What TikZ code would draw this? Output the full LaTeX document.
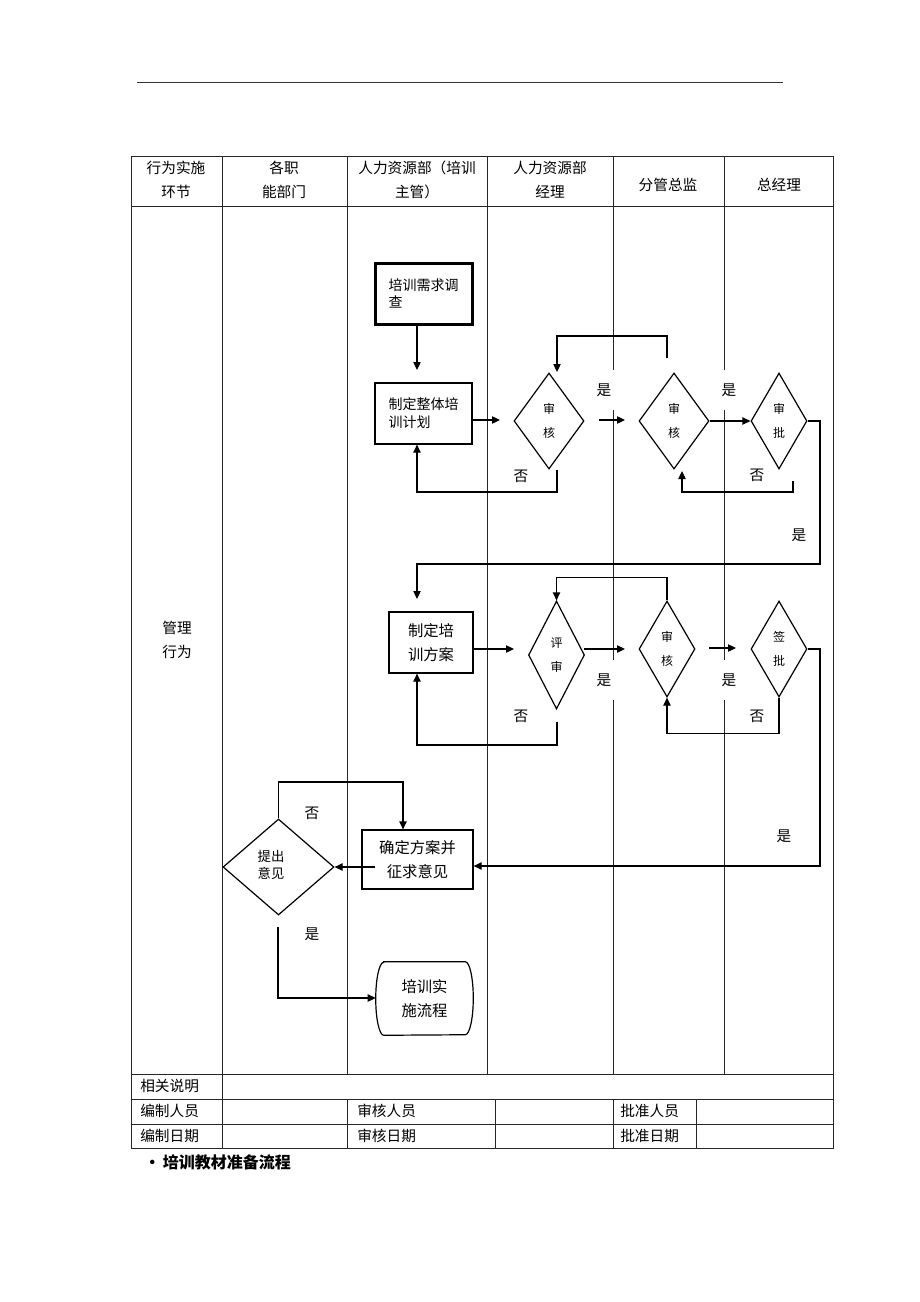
\documentclass[tikz,border=0pt]{standalone}
\usepackage{fontspec}
\setmainfont{Noto Sans CJK SC}
\usetikzlibrary{shapes.geometric,arrows.meta}
\begin{document}
\begin{tikzpicture}[x=0.75pt,y=-0.75pt,
  tbl/.style={line width=0.6pt, draw=black!85},
  conn/.style={line width=0.9pt},
  arr/.style={conn,-{Triangle[length=6pt,width=5.5pt]}},
  txt/.style={font=\fontsize{11}{18}\selectfont, inner sep=0pt, align=center},
  ltxt/.style={font=\fontsize{11}{13}\selectfont, inner sep=0pt, anchor=west},
  box/.style={draw, line width=0.9pt, rectangle, inner sep=0pt},
  dia/.style={draw, diamond, line width=0.9pt, inner sep=0pt, align=center, font=\fontsize{9}{18}\selectfont},
  yes/.style={fill=white, inner sep=0pt, font=\fontsize{11}{13}\selectfont, minimum width=22.5pt, minimum height=30pt},
  no/.style={inner sep=0pt, font=\fontsize{11}{13}\selectfont},
]
\useasboundingbox (0,0) rectangle (920,1302);
% top rule
\draw[line width=0.75pt, black!80] (137,83) -- (783,83);
% table
\draw[tbl] (131,156) rectangle (833,1148);
\draw[tbl] (131,206) -- (833,206);
\draw[tbl] (131,1074) -- (833,1074);
\draw[tbl] (131,1099) -- (833,1099);
\draw[tbl] (131,1124) -- (833,1124);
\foreach \xx in {222,347,487,613,724} {\draw[tbl] (\xx,156) -- (\xx,1074);}
\draw[tbl] (222,1074) -- (222,1148);
\foreach \xx in {347,495,613,696} {\draw[tbl] (\xx,1099) -- (\xx,1148);}
% header
\node[txt] (h1) at (176,180) {行为实施\\环节};
\node[txt] (h2) at (284,180) {各职\\能部门};
\node[txt] (h3) at (417,180) {人力资源部（培训\\主管）};
\node[txt] (h4) at (550,180) {人力资源部\\经理};
\node[txt] (h5) at (668,185) {分管总监};
\node[txt] (h6) at (779,185) {总经理};
\node[txt] (mg) at (177,640) {管理\\行为};
% bottom rows
\node[ltxt] (r1) at (140,1086) {相关说明};
\node[ltxt] (r2) at (140,1111) {编制人员};
\node[ltxt] (r3) at (140,1136) {编制日期};
\node[ltxt] (r4) at (357,1111) {审核人员};
\node[ltxt] (r5) at (357,1136) {审核日期};
\node[ltxt] (r6) at (620,1111) {批准人员};
\node[ltxt] (r7) at (620,1136) {批准日期};
\node[anchor=west, inner sep=0pt, font=\fontsize{12}{14}\selectfont\bfseries] (ttl) at (144,1162) {•\,培训教材准备流程};
% labels
\node[yes] (ly1) at (604,390) {是};
\node[yes] (ly2) at (729,390) {是};
\node[no] (ln1) at (521,476) {否};
\node[no] (ln2) at (757,475) {否};
\node[no] (ly3) at (799,535) {是};
\node[yes] (ly4) at (604,680) {是};
\node[yes] (ly5) at (729,680) {是};
\node[no] (ln3) at (521,716) {否};
\node[no] (ln4) at (757,716) {否};
\node[no] (ly6) at (784,836) {是};
\node[no] (ln5) at (312,813) {否};
\node[no] (ly7) at (312,934) {是};
% shapes
\node[box, line width=2.25pt, minimum width=72.75pt, minimum height=45.75pt, align=left, font=\fontsize{10.5}{12.75}\selectfont] (survey) at (423.5,293.5) {培训需求调\\查};
\node[box, minimum width=72.75pt, minimum height=45.75pt, align=left, font=\fontsize{10.5}{13.5}\selectfont] (plan) at (423.5,413.5) {制定整体培\\训计划};
\node[dia, minimum width=52.5pt, minimum height=72pt] (d1) at (549,421) {审\\核};
\node[dia, minimum width=52.5pt, minimum height=72pt] (d2) at (674,421) {审\\核};
\node[dia, minimum width=42pt, minimum height=72pt] (d3) at (779,421) {审\\批};
\node[box, minimum width=63pt, minimum height=45.75pt, align=center, font=\fontsize{11.5}{18}\selectfont] (scheme) at (431,642.5) {制定培\\训方案};
\node[dia, minimum width=42pt, minimum height=81pt] (d4) at (556.5,655) {评\\审};
\node[dia, minimum width=42pt, minimum height=72pt] (d5) at (667,649) {审\\核};
\node[dia, minimum width=42pt, minimum height=72pt] (d6) at (779,649) {签\\批};
\node[box, minimum width=83.25pt, minimum height=44.25pt, align=center, font=\fontsize{11.5}{18}\selectfont] (confirm) at (417.5,859.5) {确定方案并\\征求意见};
\node[dia, minimum width=83.25pt, minimum height=72pt] (d7) at (278.5,867) {};
\node[inner sep=0pt, align=center, font=\fontsize{10}{12.75}\selectfont] (d7t) at (271,865) {提出\\意见};
\node[inner sep=0pt, minimum width=72.75pt, minimum height=54.75pt, align=center, font=\fontsize{11.5}{18}\selectfont] (term) at (424.5,998.5) {培训实\\施流程};
\draw[conn] ([xshift=6pt]term.north west) -- ([xshift=-6pt]term.north east)
  arc[start angle=90, end angle=-90, x radius=6pt, y radius=27.375pt]
  -- ([xshift=6pt]term.south west)
  arc[start angle=270, end angle=90, x radius=6pt, y radius=27.375pt] -- cycle;
% coordinates
\coordinate (a1) at (417,370);
\coordinate (a2) at (500,420);
\coordinate (n1s) at (557,470); \coordinate (n1c) at (557,492);
\coordinate (y1s) at (599,420); \coordinate (y1e) at (625,420);
\coordinate (r1s) at (667,358); \coordinate (r1t) at (667,336); \coordinate (r1e) at (557,372);
\coordinate (n3s) at (793,481); \coordinate (n3c) at (793,492); \coordinate (n3e) at (682,471);
\coordinate (p1) at (820,421); \coordinate (p2) at (820,564); \coordinate (a3) at (417,599);
\coordinate (a4) at (514,649);
\coordinate (n4s) at (557,722); \coordinate (n4c) at (557,745);
\coordinate (y2s) at (584,649); \coordinate (y2e) at (625,649);
\coordinate (y3s) at (709,648); \coordinate (y3e) at (736,648);
\coordinate (q1) at (820,649); \coordinate (q2) at (820,866);
\coordinate (c16) at (375,867);
\coordinate (c17) at (403,782);
\coordinate (c18s) at (278,927); \coordinate (c18c) at (278,998);
% connectors
\draw[arr] (survey.south -| a1) -- (a1);
\draw[arr] (plan.east |- a2) -- (a2);
\draw[arr] (n1s) -- (n1c) -| (plan.south -| a1);
\draw[arr] (y1s) -- (y1e);
\draw[arr] (r1s) -- (r1t) -| (r1e);
\draw[arr] (d2.east) -- (d3.west);
\draw[arr] (n3s) -- (n3c) -| (n3e);
\draw[arr] (d3.east) -- (p1) -- (p2) -| (a3);
\draw[arr] (scheme.east |- a4) -- (a4);
\draw[arr] (n4s) -- (n4c) -| (scheme.south -| a3);
\draw[arr] (y2s) -- (y2e);
\draw[arr] (d5.north) -- ++(0,-23) -| (d4.north);
\draw[arr] (y3s) -- (y3e);
\draw[arr] (d6.south) -- ++(0,36) -| (d5.south);
\draw[arr] (d6.east) -- (q1) -- (q2) -- (confirm.east |- q2);
\draw[arr] (c16) -- (d7.east);
\draw[arr] (d7.north) -- (d7.north |- c17) -- (c17) -- (confirm.north -| c17);
\draw[arr] (c18s) -- (c18c) -- (term.west |- c18c);
\end{tikzpicture}
\end{document}
